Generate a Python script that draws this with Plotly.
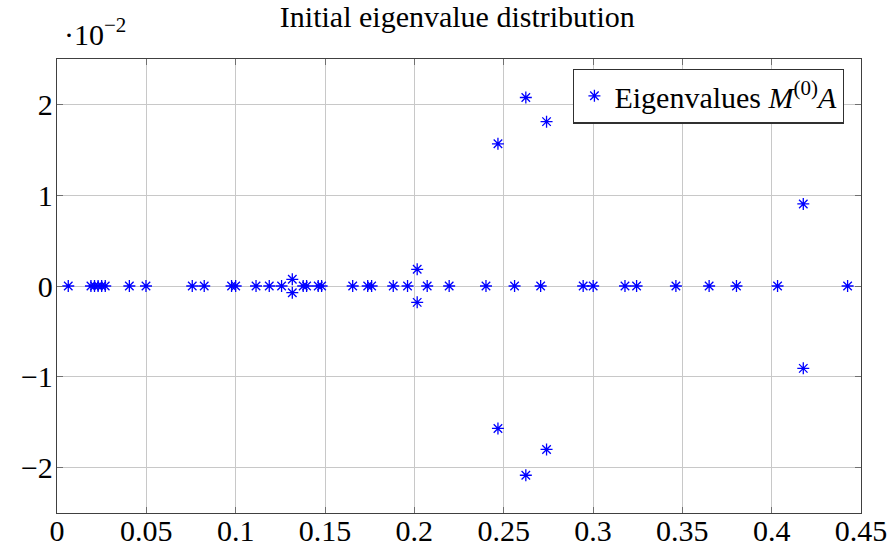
import plotly.graph_objects as go

# Eigenvalues: real parts and imaginary parts (imag in units of 1e-2)
real_parts = [0.0063, 0.019, 0.021, 0.023, 0.025, 0.027, 0.0405, 0.0498,
              0.0757, 0.0824, 0.0977, 0.1, 0.1114, 0.1188, 0.1257,
              0.1317, 0.1317, 0.1378, 0.1397, 0.1462, 0.1481,
              0.1655, 0.1739, 0.1761, 0.1882, 0.1962, 0.2016, 0.2016,
              0.2072, 0.2195, 0.2401, 0.2468, 0.2468, 0.2561, 0.2624, 0.2624,
              0.2707, 0.274, 0.274, 0.2945, 0.3001, 0.3179, 0.3244, 0.3464,
              0.365, 0.3803, 0.4033, 0.4177, 0.4177, 0.4425]
imag_parts = [0, 0, 0, 0, 0, 0, 0, 0,
              0, 0, 0, 0, 0, 0, 0,
              0.074, -0.074, 0, 0, 0, 0,
              0, 0, 0, 0, 0, 0.184, -0.18,
              0, 0, 0, 1.566, -1.569, 0, 2.076, -2.084,
              0, 1.81, -1.80, 0, 0, 0, 0, 0,
              0, 0, 0, 0.904, -0.907, 0]

x_ticks = [0, 0.05, 0.1, 0.15, 0.2, 0.25, 0.3, 0.35, 0.4, 0.45]
x_tick_labels = ["0", "0.05", "0.1", "0.15", "0.2", "0.25", "0.3", "0.35", "0.4", "0.45"]
y_ticks = [-2, -1, 0, 1, 2]
y_tick_labels = ["\u22122", "\u22121", "0", "1", "2"]

FONT = "Liberation Serif"
FS = 30

fig = go.Figure()
fig.add_trace(go.Scatter(
    x=real_parts, y=imag_parts, mode="markers",
    name="Eigenvalues <i>M</i><sup>(0)</sup><i>A</i>",
    marker=dict(symbol="asterisk-open", size=10, color="blue",
                line=dict(color="blue", width=1.3)),
))

axis_common = dict(
    showgrid=True, gridcolor="#c8c8c8", gridwidth=1,
    showline=True, linecolor="#404040", linewidth=1.3, mirror="ticks",
    ticks="inside", ticklen=6, tickcolor="#707070", tickwidth=1,
    zeroline=False, automargin=False,
    tickfont=dict(family=FONT, size=FS, color="black"),
)

fig.update_xaxes(range=[0, 0.45], tickvals=x_ticks, ticktext=x_tick_labels,
                 ticklabelstandoff=-9, **axis_common)
fig.update_yaxes(range=[-2.5, 2.5], tickvals=y_ticks, ticktext=y_tick_labels,
                 ticklabelstandoff=-3, **axis_common)

fig.update_layout(
    width=888, height=551,
    margin=dict(l=57, r=27, t=59, b=38),
    paper_bgcolor="white", plot_bgcolor="white",
    font=dict(family=FONT, size=FS, color="black"),
    title=dict(text="Initial eigenvalue distribution", x=0.515, xanchor="center",
               y=0.97, yanchor="middle", automargin=False,
               font=dict(family=FONT, size=FS, color="black")),
    showlegend=True,
    legend=dict(x=0.979, y=0.979, xanchor="right", yanchor="top",
                bgcolor="white", bordercolor="#303030", borderwidth=1.3,
                font=dict(family=FONT, size=FS, color="black"),
                itemwidth=30, tracegroupgap=0),
    annotations=[dict(text="\u00b710<sup>\u22122</sup>", xref="paper", yref="paper",
                      x=0.0, y=1.0, xanchor="left", yanchor="bottom", yshift=6, xshift=5,
                      showarrow=False, font=dict(family=FONT, size=FS, color="black"))],
)

fig.write_html("out.html")
